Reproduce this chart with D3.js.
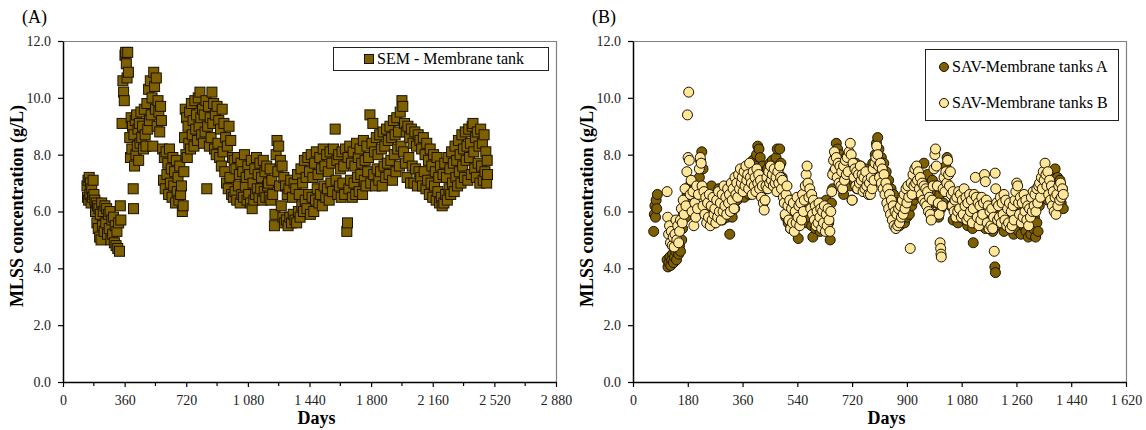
<!DOCTYPE html>
<html><head><meta charset="utf-8">
<script src="https://cdn.jsdelivr.net/npm/d3@7"></script>
<style>
body{margin:0;background:#fff}
svg{display:block}
svg text{font-family:"Liberation Serif","Times New Roman",serif !important}
</style>
</head><body>
<svg id="c" width="1146" height="430"></svg>
<script>
// ---------- DATA (day, MLSS g/L) ----------
const semData = [
[140,6.9],[143,6.5],[146,7.1],[150,6.4],[153,7.2],[157,6.6],[160,7.0],[164,6.3],[168,6.8],[172,6.5],[176,7.1],[181,6.6],
[186,6.4],[190,6.0],[194,6.3],[198,5.6],[202,6.2],[206,5.4],[210,6.1],[214,5.1],[218,5.9],[222,5.0],[226,6.3],[230,5.5],[235,6.0],[240,5.3],[245,6.2],[250,5.6],[255,6.1],[260,5.2],[265,5.9],[270,5.4],[275,6.0],[280,5.0],[285,5.7],[290,5.2],[295,5.8],[300,4.9],[305,5.5],[310,4.8],[315,5.3],[320,4.7],[325,5.6],[330,4.6],[335,6.2],[338,5.7],
[345,9.1],[350,10.6],[354,10.2],[358,9.9],[362,11.5],[366,11.6],[370,11.2],[374,10.7],[378,11.6],[382,10.9],
[390,8.6],[394,7.9],[398,9.3],[402,8.2],[406,9.0],[410,6.8],[412,6.1],[414,8.7],[418,7.6],[422,9.2],[426,8.0],[430,9.4],[434,8.3],[438,8.9],[442,7.8],[446,9.1],[450,8.4],[455,9.5],[460,8.6],[465,9.0],[470,8.2],[475,9.6],[480,8.7],[485,8.3],[490,9.8],[495,8.9],[500,10.3],[505,9.2],[510,10.6],[515,9.4],[520,10.0],[525,8.3],
[530,10.9],[535,10.4],[540,9.6],[545,10.7],[550,9.0],[555,9.9],[560,9.5],[565,8.8],[570,9.7],[575,9.2],
[582,8.2],[587,7.1],[592,7.9],[597,6.8],[602,8.1],[607,7.3],[612,7.7],[617,6.6],[622,8.2],[627,7.0],[632,7.5],[637,6.5],[642,7.9],[647,6.9],[652,7.4],[657,6.3],[662,7.8],[667,6.7],[672,7.2],[677,6.4],[682,7.6],[687,6.6],[692,6.9],[697,6.0],[702,6.2],
[706,7.4],[710,8.6],[714,9.6],[718,8.0],[722,9.3],[726,7.9],[730,9.0],[735,8.4],[740,9.5],[745,8.2],[750,9.8],[755,8.7],[760,9.2],[765,8.3],[770,9.9],[775,8.9],[780,9.4],[785,8.5],[790,10.0],[795,9.0],[800,10.2],[805,9.3],[810,8.7],[815,9.6],[820,8.4],[825,9.4],[830,8.8],[835,9.9],[840,6.8],[845,9.0],[850,9.7],[855,8.3],[860,9.3],[865,8.6],[870,10.2],[875,9.1],[880,9.8],[885,8.2],[890,9.4],[895,8.0],
[900,9.7],[905,8.4],[910,9.2],[915,7.9],[920,8.9],[925,7.6],[930,9.6],[935,8.1],[940,9.1],[945,7.4],[950,8.6],[955,7.0],[960,8.3],[965,6.8],[970,9.0],[975,7.2],[980,8.5],[985,6.6],[990,7.9],[995,6.5],
[1000,7.8],[1005,6.7],[1010,7.5],[1015,6.4],[1020,7.9],[1025,6.9],[1030,7.3],[1035,6.3],[1040,7.7],[1045,6.6],[1050,7.4],[1055,6.5],[1060,8.0],[1065,6.9],[1070,7.2],[1075,6.4],[1080,7.6],[1085,6.6],[1090,7.3],[1095,6.3],[1100,7.8],[1105,6.1],[1110,7.0],[1115,6.4],[1120,7.5],[1125,6.6],[1130,7.9],[1135,6.8],[1140,7.3],[1145,6.5],[1150,7.7],[1155,6.8],[1160,7.2],[1165,6.4],[1170,7.8],[1175,6.7],[1180,7.4],[1185,6.5],[1190,7.6],[1195,6.9],[1200,7.0],[1205,6.5],[1210,7.5],[1215,6.4],[1220,7.1],[1225,6.6],[1235,5.5],[1238,5.9],[1245,8.0],[1250,8.5],[1255,7.4],[1260,8.3],[1265,6.9],[1270,7.8],
[1275,6.2],[1280,7.6],[1285,5.8],[1290,7.2],[1295,5.6],[1300,6.9],[1305,5.7],[1310,6.6],[1315,5.5],[1320,6.8],[1325,5.8],[1330,7.1],[1335,5.6],[1340,6.5],[1345,5.9],[1350,7.0],[1355,5.7],[1360,6.8],[1365,5.6],[1370,7.3],[1375,6.0],[1380,6.6],[1385,5.8],[1390,7.5],[1395,6.2],[1400,7.0],[1405,6.0],[1410,7.8],[1415,6.4],[1420,7.2],
[1425,6.1],[1430,7.9],[1435,6.6],[1440,7.4],[1445,5.9],[1450,8.0],[1455,6.5],[1460,7.2],[1465,6.0],[1470,7.7],[1475,6.4],[1480,8.1],[1485,6.8],[1490,7.3],[1495,6.3],[1500,7.9],[1505,6.6],[1510,7.5],[1515,6.2],[1520,8.2],[1525,6.9],[1530,7.6],[1535,6.5],[1540,8.0],[1545,6.8],[1550,7.4],[1555,6.4],[1560,8.1],[1565,7.0],[1570,7.7],[1575,6.7],[1580,8.2],[1590,8.9],[1595,7.1],[1600,7.8],[1605,6.6],[1610,8.0],[1615,6.9],[1620,7.5],[1625,6.5],[1630,8.1],[1635,7.0],[1640,7.6],[1645,6.6],[1650,8.2],[1658,5.3],[1662,5.6],
[1665,7.9],[1670,6.8],[1675,8.3],[1680,7.1],[1685,7.7],[1690,6.5],[1695,8.1],[1700,7.0],[1705,7.6],[1710,6.6],[1715,8.4],[1720,7.2],[1725,7.9],[1730,6.7],[1735,8.2],[1740,7.3],[1745,7.7],[1750,6.6],[1755,8.5],[1760,7.1],[1765,7.8],[1770,6.9],[1775,8.3],[1780,7.4],[1785,7.9],[1793,9.4],[1798,7.0],[1805,8.4],[1810,9.1],[1815,7.3],[1820,8.1],[1825,6.9],[1830,8.6],[1835,7.5],[1840,8.0],[1845,7.1],[1850,8.7],[1855,7.4],[1860,8.2],[1865,6.9],[1870,8.8],[1875,7.6],[1880,8.3],[1885,7.2],[1890,8.9],[1895,7.7],
[1900,8.5],[1905,7.3],[1910,9.0],[1915,7.8],[1920,8.6],[1925,7.1],[1930,9.2],[1935,8.0],[1940,8.7],[1945,7.4],[1950,9.3],[1955,8.2],[1960,8.8],[1965,7.6],[1970,9.5],[1975,8.3],[1980,9.9],[1985,9.7],[1990,8.1],[1995,9.1],[2000,7.7],[2005,8.8],[2010,7.2],[2015,9.0],[2020,7.9],[2025,8.6],[2030,7.0],[2035,8.9],[2040,7.6],[2045,8.4],[2050,7.0],[2055,8.8],[2060,7.5],[2065,8.3],[2070,6.9],[2075,8.7],[2080,7.4],
[2085,8.5],[2090,7.2],[2095,8.2],[2100,6.9],[2105,8.6],[2110,7.4],[2115,8.0],[2120,6.8],[2125,8.4],[2130,7.1],[2135,7.8],[2140,6.6],[2145,8.2],[2150,7.0],[2155,7.6],[2160,6.5],[2165,8.0],[2170,6.9],[2175,7.4],[2180,6.4],[2185,7.9],[2190,6.7],[2195,7.2],[2200,6.3],[2205,7.6],[2210,6.5],[2215,6.2],[2220,7.3],[2225,6.3],[2230,7.7],[2235,6.6],[2240,7.2],[2245,6.4],[2250,7.9],[2255,6.8],
[2260,7.5],[2265,6.6],[2270,8.1],[2275,7.0],[2280,7.7],[2285,6.7],[2290,8.3],[2295,7.2],[2300,7.8],[2305,6.9],[2310,8.5],[2315,7.4],[2320,8.0],[2325,7.0],[2330,8.7],[2335,7.6],[2340,8.2],[2345,7.2],[2350,8.8],[2355,7.8],[2360,8.3],[2365,7.1],[2370,8.9],[2375,7.9],[2380,8.4],[2385,7.3],[2390,9.0],[2395,9.1],[2400,8.1],[2405,7.5],[2410,8.6],[2415,7.2],[2420,8.8],[2425,7.7],[2430,8.3],[2435,7.0],[2440,8.9],[2445,7.6],[2450,8.4],[2455,7.1],[2460,8.7],[2465,7.4],[2470,8.1],[2475,7.0],[2478,7.8],[2480,7.3]
];

const savA = [
[68,5.3],[70,5.9],[72,6.2],[74,5.8],[76,6.4],[78,6.1],[80,6.6],
[112,4.3],[115,4.05],[118,4.2],[121,4.4],[124,4.1],[127,4.3],[130,4.5],[133,4.2],[136,4.4],[140,4.6],[143,4.3],[146,4.7],[150,4.5],[153,4.8],[156,4.6],[160,5.0],
[163,5.4],[166,5.9],[170,6.3],[174,5.8],[178,6.6],[182,6.1],[186,6.9],[190,6.3],[194,7.0],[198,6.2],[202,6.8],[206,5.9],[210,6.6],[214,6.0],[218,7.2],[222,7.8],[226,8.1],[230,7.5],[234,6.6],[238,6.0],[242,6.7],[246,5.8],[250,6.5],[254,5.7],[258,6.9],[262,5.9],[266,6.4],[270,5.6],[274,6.6],[278,5.9],[282,6.8],[286,6.0],[290,6.4],[294,5.7],[298,6.5],[302,5.9],[306,6.3],[310,5.8],[314,6.6],[318,5.2],[322,6.1],[326,5.8],[330,6.7],[334,6.1],[338,7.0],[342,6.4],
[346,7.2],[350,6.6],[354,7.4],[358,6.7],[362,7.1],[366,6.5],[370,7.5],[374,6.8],[378,7.3],[382,6.6],[386,7.6],[390,7.0],[394,7.8],[398,7.1],[402,7.6],[406,8.0],[410,8.3],[414,8.2],[418,7.9],[422,7.2],[426,7.6],[430,6.9],[434,7.4],[438,6.8],[442,7.5],[446,7.1],[450,7.7],[454,7.0],[458,7.8],[462,7.2],[466,7.6],[470,7.9],[474,8.2],[478,7.5],[482,8.2],[486,7.7],[490,7.2],[494,6.8],
[498,6.3],[502,5.8],[506,6.5],[510,5.6],[514,6.2],[518,5.4],[522,6.0],[526,5.7],[530,6.4],[534,5.5],[538,6.1],[543,5.05],[547,5.9],[551,6.4],[555,5.8],[559,6.6],[563,6.0],[567,6.3],[571,5.6],[575,6.2],[579,5.8],[583,6.5],[587,5.5],[591,5.1],[595,5.9],[599,5.4],[603,6.2],[607,5.7],[611,6.0],[615,5.3],[619,6.3],[623,5.8],[627,6.1],[631,5.5],[635,6.4],[639,5.9],[643,5.6],[648,5.0],
[652,6.3],[656,6.8],[660,7.4],[664,7.9],[668,8.4],[672,8.2],[676,7.6],[680,8.0],[684,7.2],[688,7.7],[692,6.6],[696,7.4],[700,7.9],[704,7.1],[708,7.6],[712,6.9],[716,7.8],[720,6.4],[724,7.5],[728,7.0],[732,7.7],[736,6.8],[740,7.4],[744,7.1],[748,7.6],[752,6.9],[756,7.3],[760,6.7],[764,7.5],[768,7.0],[772,7.2],[776,6.6],[780,7.4],[784,6.9],[788,7.7],[792,7.2],[796,8.0],[800,8.4],[804,8.6],[808,8.2],[812,7.5],
[816,7.9],[820,7.2],[824,7.7],[828,6.9],[832,7.4],[836,6.6],[840,7.1],[844,6.3],[848,6.8],[852,6.0],[856,6.6],[860,5.8],[864,6.3],[868,5.7],[872,6.2],[876,5.5],[880,6.0],[884,5.7],[888,6.3],[892,5.6],[896,6.1],[900,5.8],[904,6.4],[908,5.9],[912,6.6],
[916,6.2],[920,6.8],[924,6.4],[928,7.1],[932,6.6],[936,7.3],[940,6.8],[944,7.0],[948,6.5],[952,7.2],[956,7.7],[960,7.0],[964,6.6],[968,7.3],[972,6.2],[976,6.9],[980,6.4],[984,7.1],[988,5.9],[992,6.7],[996,6.3],[1000,6.9],[1004,5.8],[1008,6.6],[1012,6.1],[1016,6.8],[1020,6.3],[1024,7.2],[1028,7.6],[1032,7.9],[1036,7.3],[1040,6.8],[1044,6.2],[1048,6.6],[1052,5.7],[1056,6.4],
[1060,5.9],[1064,6.5],[1068,5.6],[1072,6.3],[1076,5.8],[1080,6.6],[1084,6.0],[1088,6.4],[1092,5.7],[1096,6.2],[1100,5.5],[1104,6.1],[1108,5.8],[1112,6.4],[1116,5.4],[1118,4.9],[1122,6.0],[1126,5.6],[1130,6.3],[1134,5.8],[1138,6.5],[1142,5.5],[1146,6.1],[1150,5.7],[1154,6.3],[1158,5.4],[1162,5.9],[1166,5.5],[1170,6.2],[1174,5.6],[1178,5.9],[1182,5.3],[1186,5.8],[1189,4.05],[1191,3.85],[1195,5.5],[1199,6.0],
[1203,5.6],[1207,6.2],[1211,5.5],[1215,6.0],[1219,5.3],[1223,5.9],[1227,5.5],[1231,6.3],[1235,5.7],[1239,6.1],[1243,5.4],[1247,5.9],[1251,5.2],[1255,6.0],[1259,5.5],[1263,6.2],[1267,5.3],[1271,5.8],[1275,5.2],[1279,6.1],[1283,5.5],[1287,6.0],[1291,5.3],[1295,5.9],[1299,5.1],[1303,5.7],[1307,5.2],[1311,6.0],[1315,5.4],[1319,5.8],[1323,5.1],[1327,5.6],[1331,5.3],[1335,6.2],[1339,6.6],[1343,7.0],[1347,6.5],[1351,7.2],[1355,6.7],[1359,7.1],[1363,6.4],[1367,7.3],[1371,6.8],[1375,7.0],[1379,6.4],[1383,7.4],[1387,7.5],[1391,6.9],[1395,7.2],[1399,6.6],[1403,7.1],[1407,6.3],[1411,6.8],[1414,6.1]
];

const savB = [
[112,6.7],[114,5.8],[117,5.2],[120,5.5],[123,4.9],[126,5.3],[129,4.8],[132,5.1],[135,4.75],[138,5.2],[141,5.7],[144,5.0],[147,5.5],[150,4.9],[153,5.3],[156,5.7],[159,6.1],[162,5.6],[165,6.4],[168,5.9],[171,6.8],[174,6.2],[177,7.4],[179,9.4],[181,7.9],[183,10.2],[185,7.8],[188,6.6],[191,7.1],[194,6.0],[197,6.7],[200,5.5],[203,6.3],[206,5.8],[209,6.9],[212,6.1],[215,6.6],[218,7.5],[221,7.9],[224,7.7],[227,6.9],[230,6.2],[233,6.7],[236,5.9],[239,6.5],[242,5.6],[245,6.3],[248,5.8],[251,6.6],[254,5.5],[257,6.2],[260,5.7],[263,6.5],[266,5.9],[269,6.1],[272,5.6],[275,6.4],[278,5.8],[281,6.7],[284,6.0],[287,6.3],[290,5.7],[293,6.6],[296,6.0],[299,6.9],[302,6.2],[305,6.5],[308,5.9],[311,6.8],[314,6.3],[317,6.6],[320,6.0],[323,7.0],[326,6.4],[329,6.8],[332,6.1],[335,7.2],[338,6.6],[341,7.0],
[344,6.5],[347,7.3],[350,6.8],[353,7.5],[356,7.0],[359,7.2],[362,6.7],[365,7.4],[368,6.9],[371,7.6],[374,7.1],[377,7.3],[380,6.8],[383,7.7],[386,7.2],[389,7.0],[392,6.6],[395,7.4],[398,6.9],[401,7.2],[404,6.7],[407,7.5],[410,7.0],[413,7.3],[416,6.8],[419,7.1],[422,6.5],[425,6.9],[428,6.3],[431,6.05],[434,6.4],[437,6.9],[440,7.2],[443,6.8],[446,7.4],[449,7.0],[452,7.6],[455,7.1],[458,7.3],[461,6.9],[464,7.5],[467,7.0],[470,7.2],[473,6.7],[476,7.4],[479,7.0],[482,7.6],[485,7.2],[488,6.8],[491,7.1],[494,6.5],
[497,6.3],[500,5.9],[503,6.6],[506,6.9],[509,6.2],[512,5.7],[515,6.4],[518,5.4],[521,6.1],[524,5.6],[527,6.3],[530,5.3],[533,6.0],[536,5.6],[539,6.5],[542,5.8],[545,6.2],[548,5.5],[551,6.3],[554,5.7],[557,6.6],[560,6.0],[563,6.4],[566,6.9],[569,7.3],[572,7.6],[575,7.0],[578,6.5],[581,6.8],[584,6.1],[587,6.6],[590,5.9],[593,6.4],[596,5.7],[599,6.2],[602,5.5],[605,6.0],[608,5.6],[611,6.3],[614,5.8],[617,6.1],[620,5.4],[623,6.0],[626,5.6],[629,6.2],[632,5.3],[635,5.9],[638,5.5],[641,6.1],[644,5.7],[647,5.3],
[650,6.0],[653,6.7],[656,7.3],[659,7.8],[662,8.1],[665,7.5],[668,7.9],[671,7.2],[674,7.7],[677,7.0],[680,7.6],[683,6.9],[686,7.4],[689,6.8],[692,7.6],[695,7.1],[698,7.8],[701,7.3],[704,7.9],[707,7.4],[710,8.1],[714,8.4],[717,8.0],[720,6.4],[723,7.7],[726,7.2],[729,7.5],[732,6.9],[735,7.4],[738,6.8],[741,7.3],[744,7.0],[747,7.6],[750,7.1],[753,7.3],[756,6.7],[759,7.2],[762,6.8],[765,7.4],[768,6.9],[771,7.1],[774,6.6],[777,7.0],[780,6.6],[783,7.2],[786,6.8],[789,7.5],[792,7.1],[795,7.7],[798,7.9],[801,8.3],[804,8.0],[807,7.6],[810,7.2],[813,7.7],
[816,7.0],[819,7.5],[822,6.8],[825,7.3],[828,6.6],[831,7.0],[834,6.3],[837,6.8],[840,6.1],[843,6.6],[846,5.9],[849,6.4],[852,5.7],[855,6.2],[858,5.5],[861,6.0],[864,5.4],[867,5.9],[870,5.5],[873,6.1],[876,5.6],[879,6.2],[882,5.8],[885,6.4],[888,5.9],[891,6.6],[894,6.1],[897,6.8],[900,6.3],[903,6.9],[906,6.5],[911,4.7],[914,7.0],[917,6.6],[920,7.3],[923,6.9],[926,7.5],
[929,7.0],[932,7.6],[935,7.1],[938,7.4],[941,6.8],[944,7.2],[947,6.6],[950,7.0],[953,6.4],[956,6.9],[959,6.3],[962,6.8],[965,6.2],[968,6.7],[971,6.0],[974,6.5],[977,5.9],[980,5.7],[983,6.4],[986,6.9],[989,7.5],[992,8.0],[994,8.2],[997,7.6],[1000,6.9],[1003,6.3],[1006,5.9],[1009,4.9],[1011,4.7],[1012,4.5],[1013,4.4],[1016,6.2],[1019,6.8],[1022,7.2],[1025,6.7],[1028,7.4],[1031,7.0],[1034,7.8],[1037,7.3],[1040,6.9],[1043,7.4],[1046,6.6],[1049,6.2],[1052,6.7],[1055,6.0],[1058,6.4],
[1061,5.8],[1064,6.5],[1067,6.0],[1070,6.7],[1073,6.1],[1076,6.6],[1079,5.8],[1082,6.4],[1085,5.9],[1088,6.8],[1091,6.2],[1094,6.5],[1097,5.7],[1100,6.3],[1103,5.8],[1106,6.6],[1109,6.0],[1112,6.4],[1115,5.6],[1118,6.1],[1121,6.6],[1125,7.2],[1128,6.5],[1131,5.8],[1134,6.3],[1137,5.5],[1140,6.2],[1143,5.7],[1146,6.5],[1149,5.9],[1152,6.3],[1155,7.3],[1158,7.05],[1161,6.4],[1164,5.6],[1167,6.2],[1170,5.4],[1173,6.0],[1176,5.5],[1179,6.1],[1182,5.4],[1185,5.8],[1187,4.6],[1190,7.35],[1192,6.8],[1195,6.3],[1198,5.7],
[1201,6.2],[1204,5.8],[1207,6.5],[1210,5.6],[1213,6.3],[1216,5.9],[1219,6.6],[1222,5.7],[1225,6.4],[1228,5.5],[1231,6.1],[1234,5.6],[1237,6.3],[1240,5.4],[1243,6.0],[1246,5.5],[1249,6.2],[1252,5.7],[1255,6.4],[1258,6.7],[1261,7.0],[1264,6.9],[1267,6.3],[1270,5.9],[1273,6.5],[1276,5.6],[1279,6.3],[1282,5.8],[1285,6.6],[1288,6.0],[1291,6.4],[1294,5.7],[1297,6.2],[1300,5.5],[1303,6.1],[1306,5.8],[1309,6.5],[1312,6.0],[1315,6.7],[1318,6.2],[1321,6.6],[1324,6.0],[1327,6.8],[1330,6.3],[1333,6.9],[1336,7.0],[1339,6.5],[1342,7.2],[1345,6.8],[1348,7.4],[1351,7.1],[1354,7.7],[1357,7.3],[1360,6.9],[1363,7.4],[1366,6.6],[1369,7.1],[1372,6.4],[1375,6.9],[1378,6.2],[1381,6.7],[1384,6.0],[1387,6.5],[1390,5.9],[1393,6.6],[1396,6.2],[1399,6.9],[1402,6.4],[1405,7.0],[1408,6.5],[1411,6.8],[1414,6.6]
];

const yTickValues = [0, 2, 4, 6, 8, 10, 12];
const xTicksA = [0, 360, 720, 1080, 1440, 1800, 2160, 2520, 2880];
const xLabelsA = ["0", "360", "720", "1 080", "1 440", "1 800", "2 160", "2 520", "2 880"];
const xMinorA = [180, 540, 900, 1260, 1620, 1980, 2340, 2700];
const xTicksB = [0, 180, 360, 540, 720, 900, 1080, 1260, 1440, 1620];
const xLabelsB = ["0", "180", "360", "540", "720", "900", "1 080", "1 260", "1 440", "1 620"];
const legendA = ["SEM - Membrane tank"];
const legendB = ["SAV-Membrane tanks A", "SAV-Membrane tanks B"];
const panelTitles = ["(A)", "(B)"];
const yTitle = "MLSS concentration (g/L)";
const xTitle = "Days";

// ---------- STYLE ----------
const DARK = "#7f6000", LIGHT = "#ffe699";
const svg = d3.select("#c");
const plotTop = 41, plotBottom = 382;
const y = d3.scaleLinear().domain([0, 12]).range([plotBottom, plotTop]);
const xA = d3.scaleLinear().domain([0, 2880]).range([63, 556]);
const xB = d3.scaleLinear().domain([0, 1620]).range([633, 1126]);
const FONT = '"Liberation Serif","Times New Roman",serif';

function frame(x, ticks, labels, minor, title) {
  const [l, r] = x.range();
  const g = svg.append("g");
  g.append("line").attr("x1", l).attr("x2", r).attr("y1", plotTop + 0.5).attr("y2", plotTop + 0.5).attr("stroke", "#808080").attr("stroke-width", 1.2);
  g.append("line").attr("x1", r + 0.5).attr("x2", r + 0.5).attr("y1", plotTop).attr("y2", plotBottom).attr("stroke", "#808080").attr("stroke-width", 1.2);
  const ax = g.append("g").attr("transform", `translate(0,${plotBottom})`)
    .call(d3.axisBottom(x).tickValues(ticks).tickFormat((d, i) => labels[i]).tickSize(5).tickSizeOuter(0))
    .attr("font-family", FONT).attr("font-size", 14);
  ax.select(".domain").attr("stroke", "#000").attr("stroke-width", 1.5);
  ax.selectAll(".tick line").attr("stroke", "#000").attr("stroke-width", 1.2);
  ax.selectAll(".tick text").attr("y", 13).attr("fill", "#222");
  if (minor) {
    g.selectAll(".minor").data(minor).enter().append("line")
      .attr("x1", d => x(d)).attr("x2", d => x(d)).attr("y1", plotBottom).attr("y2", plotBottom + 4)
      .attr("stroke", "#000").attr("stroke-width", 1.2);
  }
  const ay = g.append("g").attr("transform", `translate(${l},0)`)
    .call(d3.axisLeft(y).tickValues(yTickValues).tickFormat(d3.format(".1f")).tickSize(5).tickSizeOuter(0))
    .attr("font-family", FONT).attr("font-size", 14);
  ay.select(".domain").attr("stroke", "#000").attr("stroke-width", 1.5);
  ay.selectAll(".tick line").attr("stroke", "#000").attr("stroke-width", 1.2);
  ay.selectAll(".tick text").attr("x", -12).attr("fill", "#222");
  svg.append("text").attr("x", (l + r) / 2 + 7).attr("y", 424).attr("text-anchor", "middle")
    .attr("font-size", 18).attr("font-weight", "bold").text(xTitle);
  svg.append("text").attr("transform", `translate(${l - 40},206) rotate(-90)`).attr("text-anchor", "middle")
    .attr("font-size", 18).attr("font-weight", "bold").text(yTitle);
  svg.append("text").attr("x", l - 41).attr("y", 23).attr("font-size", 18).text(title);
}

frame(xA, xTicksA, xLabelsA, xMinorA, panelTitles[0]);
frame(xB, xTicksB, xLabelsB, null, panelTitles[1]);

// ---------- MARKS ----------
const S = 10;
svg.append("g").selectAll("rect").data(semData).enter().append("rect")
  .attr("x", d => xA(d[0]) - S / 2).attr("y", d => y(d[1]) - S / 2)
  .attr("width", S).attr("height", S)
  .attr("fill", DARK).attr("stroke", "#1a1200").attr("stroke-width", 1);

svg.append("g").selectAll("circle").data(savA).enter().append("circle")
  .attr("cx", d => xB(d[0])).attr("cy", d => y(d[1])).attr("r", 5)
  .attr("fill", DARK).attr("stroke", "#1a1200").attr("stroke-width", 1);
svg.append("g").selectAll("circle").data(savB).enter().append("circle")
  .attr("cx", d => xB(d[0])).attr("cy", d => y(d[1])).attr("r", 5)
  .attr("fill", LIGHT).attr("stroke", "#1a1200").attr("stroke-width", 1);

// ---------- LEGENDS ----------
const lgA = svg.append("g");
lgA.append("rect").attr("x", 333.5).attr("y", 47.5).attr("width", 215).attr("height", 23)
  .attr("fill", "#fff").attr("stroke", "#222").attr("stroke-width", 1);
lgA.append("rect").attr("x", 364.5).attr("y", 54.5).attr("width", 9).attr("height", 9)
  .attr("fill", DARK).attr("stroke", "#1a1200");
lgA.append("text").attr("x", 377).attr("y", 64).attr("font-size", 16).text(legendA[0]);

const lgB = svg.append("g");
lgB.append("rect").attr("x", 925.5).attr("y", 49.5).attr("width", 193).attr("height", 71)
  .attr("fill", "#fff").attr("stroke", "#222").attr("stroke-width", 1);
[DARK, LIGHT].forEach((c, i) => {
  const cy = 67 + i * 36;
  lgB.append("circle").attr("cx", 944).attr("cy", cy).attr("r", 4.5).attr("fill", c).attr("stroke", "#1a1200");
  lgB.append("text").attr("x", 952).attr("y", cy + 5).attr("font-size", 16).text(legendB[i]);
});
</script>
</body></html>
